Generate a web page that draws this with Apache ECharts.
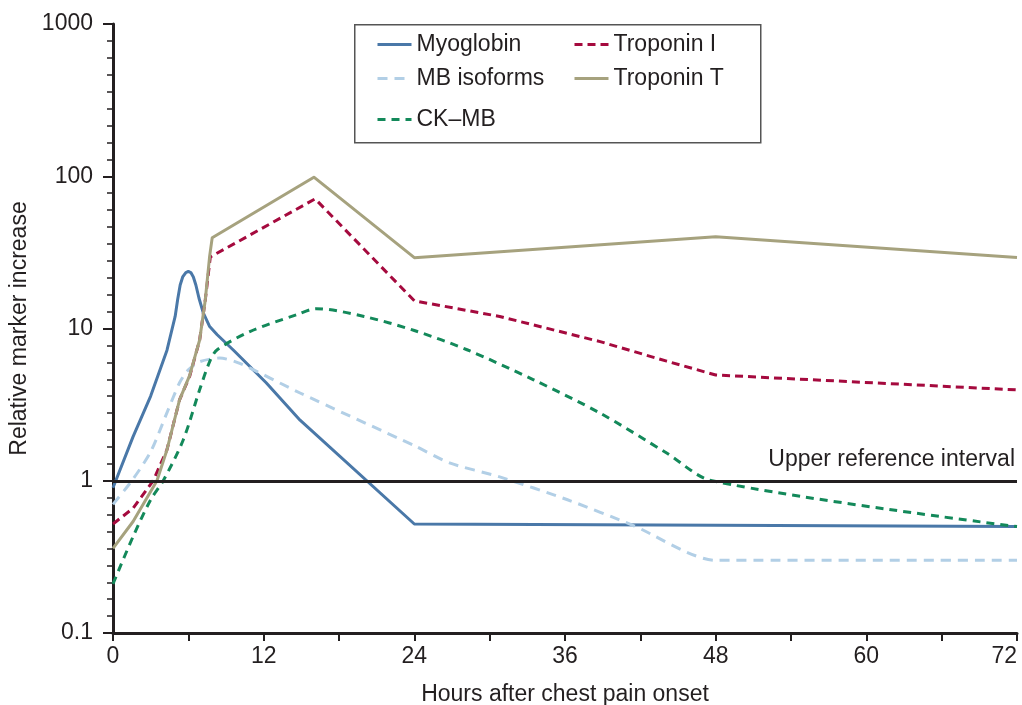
<!DOCTYPE html>
<html>
<head>
<meta charset="utf-8">
<script src="https://cdn.jsdelivr.net/npm/echarts@6/dist/echarts.min.js"></script>
<style>
html,body{margin:0;padding:0;background:#fff;}
#chart{width:1022px;height:705px;}
</style>
</head>
<body>
<div id="chart"></div>
<script>
// ---- Data: [hours after onset, relative marker increase] ----
const myoglobin = [[0,0.9],[1.6,1.95],[3.0,3.6],[4.3,7.2],[4.95,12],[5.15,15.5],[5.35,19.3],[5.55,21.8],[5.8,23.3],[6.0,23.7],[6.2,23.3],[6.4,21.8],[6.6,19.3],[6.85,15.8],[7.2,12.6],[7.7,10.3],[8.3,9.1],[9.6,7.2],[12.2,4.4],[14.9,2.5],[24,0.52],[48,0.51],[72,0.5]];
const mbIsoforms = [[0,0.7],[1.5,1.0],[3.0,1.55],[4.3,2.8],[5.3,4.4],[6.0,5.35],[6.9,6.05],[8.5,6.4],[10.1,5.9],[14.9,3.77],[24,1.7],[26.8,1.31],[30.8,1.06],[36.2,0.75],[41.4,0.51],[48,0.3],[72,0.3]];
const troponinI = [[0,0.52],[1.6,0.66],[3.2,1.0],[4.3,1.6],[5.3,3.4],[6.1,4.84],[6.9,8.4],[7.35,15.4],[7.75,29.5],[16.1,71],[24,15.2],[30.8,12],[38.8,8.2],[44.1,6.1],[48,4.95],[72,3.95]];
const troponinT = [[0,0.36],[1.6,0.54],[3.5,1.0],[4.3,1.6],[5.3,3.4],[6.1,4.9],[6.9,8.4],[7.35,15.4],[7.7,30],[7.9,39.4],[16.0,98.6],[24,29.2],[48,40],[72,29.3]];
const ckMB = [[0,0.21],[1.6,0.43],[3.0,0.75],[4.0,1.0],[5.6,1.86],[6.9,3.96],[7.75,6.2],[8.3,7.25],[10.9,9.55],[14.6,12.3],[16.2,13.5],[20,12.0],[24,9.7],[28.2,7.25],[33.5,4.6],[38.8,2.78],[44.1,1.52],[47.7,1.0],[72,0.5]];
const upperReference = 1;

const seriesNames = ['Myoglobin','MB isoforms','Troponin I','Troponin T','CK\u2013MB'];
const seriesColors = ['#4a78a8','#b2cfe6','#a50a3e','#a6a27e','#13895a'];
const xTickLabels = [0,12,24,36,48,60,72];
const yTickLabels = [0.1,1,10,100,1000];

const FONT = 'Liberation Sans, Arial, Helvetica, sans-serif';
const TXT = '#231f20';

const chart = echarts.init(document.getElementById('chart'), null, {renderer:'canvas'});

function lineSeries(name, data, color, dashed, smooth) {
  return {
    name: name, type: 'line', data: data, xAxisIndex: 0, yAxisIndex: 0,
    symbol: 'none', smooth: smooth, animation: false,
    lineStyle: {color: color, width: 3, type: dashed ? dashed : 'solid', join: 'round'},
    itemStyle: {color: color}, z: 3
  };
}

const legendPos = [
  {name: seriesNames[0], left: 376, top: 33},
  {name: seriesNames[2], left: 573, top: 33},
  {name: seriesNames[1], left: 376, top: 67},
  {name: seriesNames[3], left: 573, top: 67},
  {name: seriesNames[4], left: 376, top: 108}
];

const option = {
  backgroundColor: '#fff',
  animation: false,
  textStyle: {fontFamily: FONT},
  grid: {left: 113, right: 5, top: 24, bottom: 72, containLabel: false, outerBoundsMode: 'none'},
  graphic: [{
    type: 'rect', left: 354, top: 24, z: 5,
    shape: {width: 406, height: 118},
    style: {fill: '#fff', stroke: '#555', lineWidth: 1.5}
  }],
  legend: legendPos.map(p => ({
    data: [p.name], left: p.left, top: p.top, orient: 'horizontal', padding: 0,
    itemWidth: 34, itemHeight: 14, itemGap: 0, selectedMode: false, z: 10,
    itemStyle: {opacity: 0},
    lineStyle: {width: 3},
    textStyle: {fontSize: 23, color: TXT, fontFamily: FONT}
  })),
  xAxis: [{
    type: 'value', min: 0, max: 72, interval: 6,
    name: 'Hours after chest pain onset', nameLocation: 'middle', nameGap: 50,
    nameTextStyle: {fontSize: 23, color: TXT, fontFamily: FONT},
    axisLine: {show: true, onZero: false, lineStyle: {color: TXT, width: 3}},
    axisTick: {show: true, inside: false, length: 8, lineStyle: {color: TXT, width: 2}},
    axisLabel: {fontSize: 23, color: TXT, margin: 12, fontFamily: FONT, alignMaxLabel: 'right',
      formatter: v => (xTickLabels.indexOf(v) >= 0 ? String(v) : '')},
    splitLine: {show: false}
  }],
  yAxis: [{
    type: 'log', logBase: 10, min: 0.1, max: 1000, position: 'left',
    name: 'Relative marker increase', nameLocation: 'middle', nameGap: 78,
    nameTextStyle: {fontSize: 23, color: TXT, fontFamily: FONT},
    axisLine: {show: true, onZero: false, lineStyle: {color: TXT, width: 3}},
    axisTick: {show: false},
    axisLabel: {fontSize: 23, color: TXT, margin: 20, fontFamily: FONT,
      formatter: v => {
        const m = yTickLabels.find(t => Math.abs(t - v) / t < 1e-6);
        return m !== undefined ? String(m) : '';
      }},
    splitLine: {show: false}
  }, {
    // helper axis in log10 space, only for tick marks (9 per decade)
    type: 'value', min: -1, max: 3, interval: 1, position: 'left',
    axisLine: {show: false, onZero: false},
    axisTick: {show: true, inside: false, length: 10, lineStyle: {color: TXT, width: 2}},
    minorTick: {show: true, splitNumber: 9, length: 6, lineStyle: {color: TXT, width: 1.5}},
    axisLabel: {show: false},
    splitLine: {show: false}
  }],
  series: [
    lineSeries(seriesNames[0], myoglobin, seriesColors[0], null, false),
    lineSeries(seriesNames[1], mbIsoforms, seriesColors[1], [10, 7], 0.25),
    lineSeries(seriesNames[2], troponinI, seriesColors[2], [8, 5], false),
    lineSeries(seriesNames[3], troponinT, seriesColors[3], null, false),
    Object.assign(lineSeries(seriesNames[4], ckMB, seriesColors[4], [8, 6], 0.3), {
      markLine: {
        silent: true, symbol: 'none', animation: false,
        lineStyle: {color: TXT, width: 3, type: 'solid'},
        label: {show: true, position: 'insideEndTop', formatter: 'Upper reference interval',
          fontSize: 23, color: TXT, fontFamily: FONT, distance: [2, 10]},
        data: [{yAxis: upperReference}]
      }
    })
  ]
};
chart.setOption(option);
</script>
</body>
</html>
